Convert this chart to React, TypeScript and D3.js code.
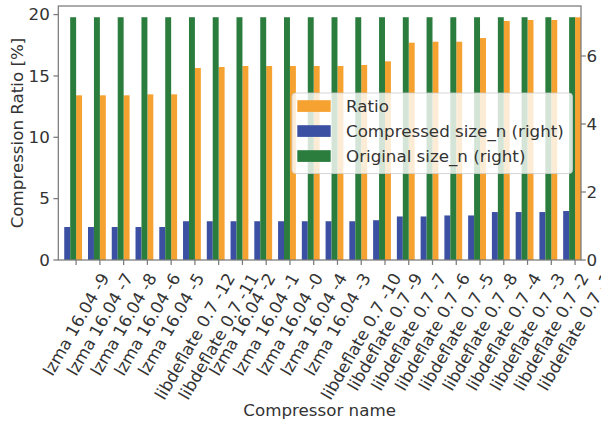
import React, { useEffect, useRef } from "react";
import * as d3 from "d3";

const categories = [
  "lzma 16.04 -9", "lzma 16.04 -7", "lzma 16.04 -8", "lzma 16.04 -6", "lzma 16.04 -5",
  "libdeflate 0.7 -12", "libdeflate 0.7 -11", "lzma 16.04 -2", "lzma 16.04 -1", "lzma 16.04 -0",
  "lzma 16.04 -4", "lzma 16.04 -3", "libdeflate 0.7 -10", "libdeflate 0.7 -9", "libdeflate 0.7 -7",
  "libdeflate 0.7 -6", "libdeflate 0.7 -5", "libdeflate 0.7 -8", "libdeflate 0.7 -4", "libdeflate 0.7 -3",
  "libdeflate 0.7 -2", "libdeflate 0.7 -1",
];
const ratio = [13.42, 13.42, 13.42, 13.5, 13.5, 15.65, 15.73, 15.81, 15.81, 15.81, 15.81, 15.81, 15.89, 16.19, 17.71, 17.79, 17.79, 18.09, 19.48, 19.56, 19.56, 19.78];
const compressedSize = [0.97, 0.97, 0.97, 0.97, 0.97, 1.14, 1.14, 1.14, 1.14, 1.14, 1.14, 1.14, 1.14, 1.17, 1.28, 1.28, 1.31, 1.31, 1.41, 1.41, 1.41, 1.44];
const originalSize = [7.14, 7.14, 7.14, 7.14, 7.14, 7.14, 7.14, 7.14, 7.14, 7.14, 7.14, 7.14, 7.14, 7.14, 7.14, 7.14, 7.14, 7.14, 7.14, 7.14, 7.14, 7.14];
const leftTicks = [0, 5, 10, 15, 20];
const rightTicks = [0, 2, 4, 6];
const legendLabels = ["Ratio", "Compressed size_n (right)", "Original size_n (right)"];

const ORANGE = "#f6a230";
const BLUE = "#3b50a3";
const GREEN = "#2b7d3e";
const TEXT = "#333333";
const SPINE = "#7a7a7a";
const FONT = "'DejaVu Sans', sans-serif";
const FS = 16.7;

export default function App() {
  const ref = useRef<SVGSVGElement | null>(null);
  useEffect(() => {
    const svg = d3.select(ref.current);
    svg.selectAll("*").remove();
    const L = 58.3, R = 581, T = 6, B = 260;
    const x = d3.scaleLinear().domain([-0.75, categories.length - 0.75]).range([L, R]);
    const yL = d3.scaleLinear().domain([0, 20.7]).range([B, T]);
    const yR = d3.scaleLinear().domain([0, 7.47]).range([B, T]);
    const w = 0.25;

    const g = svg.append("g");
    // primary bars (Ratio)
    g.selectAll("rect.ratio").data(ratio).join("rect")
      .attr("x", (_, i) => x(i)).attr("width", x(w) - x(0))
      .attr("y", d => yL(d)).attr("height", d => B - yL(d))
      .attr("fill", ORANGE);
    // secondary bars
    g.selectAll("rect.comp").data(compressedSize).join("rect")
      .attr("x", (_, i) => x(i - 2 * w)).attr("width", x(w) - x(0))
      .attr("y", d => yR(d)).attr("height", d => B - yR(d))
      .attr("fill", BLUE);
    g.selectAll("rect.orig").data(originalSize).join("rect")
      .attr("x", (_, i) => x(i - w)).attr("width", x(w) - x(0))
      .attr("y", d => yR(d)).attr("height", d => B - yR(d))
      .attr("fill", GREEN);

    // spines
    svg.append("rect").attr("x", L).attr("y", T).attr("width", R - L).attr("height", B - T)
      .attr("fill", "none").attr("stroke", SPINE).attr("stroke-width", 1.25);

    // left ticks
    leftTicks.forEach(t => {
      svg.append("line").attr("x1", L - 4.9).attr("x2", L).attr("y1", yL(t)).attr("y2", yL(t))
        .attr("stroke", SPINE).attr("stroke-width", 1.25);
      svg.append("text").attr("x", L - 8.5).attr("y", yL(t)).attr("dy", "0.35em")
        .attr("text-anchor", "end").attr("font-family", FONT).attr("font-size", FS)
        .attr("fill", TEXT).text(String(t));
    });
    rightTicks.forEach(t => {
      svg.append("line").attr("x1", R).attr("x2", R + 4.9).attr("y1", yR(t)).attr("y2", yR(t))
        .attr("stroke", SPINE).attr("stroke-width", 1.25);
      svg.append("text").attr("x", R + 5.5).attr("y", yR(t)).attr("dy", "0.35em")
        .attr("text-anchor", "start").attr("font-family", FONT).attr("font-size", FS)
        .attr("fill", TEXT).text(String(t));
    });

    // x ticks and rotated labels
    const y0 = B + 4.9 + 4.9;
    const lh = 1.164 * FS;
    const s60 = Math.sin(Math.PI / 3), c60 = Math.cos(Math.PI / 3);
    categories.forEach((c, i) => {
      const tx = x(i);
      svg.append("line").attr("x1", tx).attr("x2", tx).attr("y1", B).attr("y2", B + 4.9)
        .attr("stroke", SPINE).attr("stroke-width", 1.25);
      const t = svg.append("text").attr("font-family", FONT).attr("font-size", FS)
        .attr("fill", TEXT).attr("text-anchor", "middle").text(c);
      const len = (t.node() as SVGTextElement).getComputedTextLength();
      const H = len * s60 + lh * c60;
      const cy = y0 + H / 2;
      t.attr("x", 0).attr("y", 0.346 * FS)
        .attr("transform", `translate(${tx},${cy}) rotate(-60)`);
    });

    // axis labels
    svg.append("text").attr("x", (L + R) / 2).attr("y", 416).attr("text-anchor", "middle")
      .attr("font-family", FONT).attr("font-size", FS).attr("fill", TEXT).text("Compressor name");
    svg.append("text").attr("transform", `translate(22.7,${(T + B) / 2}) rotate(-90)`)
      .attr("text-anchor", "middle").attr("font-family", FONT).attr("font-size", FS)
      .attr("fill", TEXT).text("Compression Ratio [%]");

    // legend
    const lg = svg.append("g");
    lg.append("rect").attr("x", 292).attr("y", 93).attr("width", 280.5).attr("height", 80.5)
      .attr("rx", 3.5).attr("fill", "white").attr("fill-opacity", 0.8)
      .attr("stroke", "#cccccc").attr("stroke-opacity", 0.8).attr("stroke-width", 1);
    const lcolors = [ORANGE, BLUE, GREEN];
    legendLabels.forEach((lab, i) => {
      const cy = 106 + i * 25;
      lg.append("rect").attr("x", 297.3).attr("y", cy - 5.8).attr("width", 33.4).attr("height", 11.7)
        .attr("fill", lcolors[i]);
      lg.append("text").attr("x", 346).attr("y", cy).attr("dy", "0.35em")
        .attr("font-family", FONT).attr("font-size", FS).attr("fill", TEXT).text(lab);
    });
  }, []);
  return (
    <svg ref={ref} width={601} height={426}
      style={{ position: "absolute", left: 0, top: 0, background: "white" }} />
  );
}
